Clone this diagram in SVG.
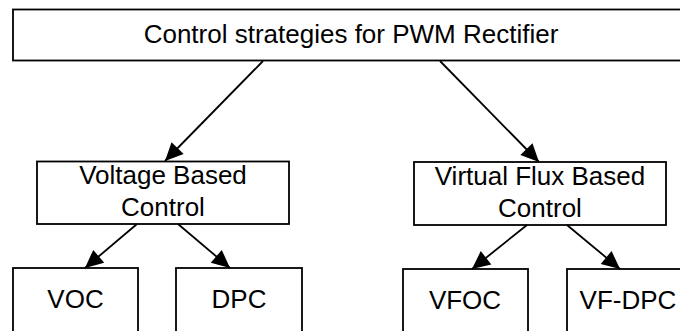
<svg xmlns="http://www.w3.org/2000/svg" width="680" height="331" viewBox="0 0 680 331">
<style>
.box{fill:#fff;stroke:#000;stroke-width:1.8}
.t{font-family:"Liberation Sans",Arial,sans-serif;font-size:26px;fill:#000;text-anchor:middle}
.c{stroke:#000;stroke-width:1.8;fill:none;marker-end:url(#ah)}
</style>
<defs>
<marker id="ah" markerUnits="userSpaceOnUse" markerWidth="20" markerHeight="18" refX="18" refY="8.5" orient="auto" overflow="visible">
<path d="M0,0 L18,8.5 L0,17 z" fill="#000"/>
</marker>
</defs>
<rect width="680" height="331" fill="#fff"/>
<g id="root">
<rect class="box" x="13" y="9.5" width="676" height="51"/>
<text class="t" x="351" y="43">Control strategies for PWM Rectifier</text>
</g>
<g id="voltage">
<rect class="box" x="37" y="161.5" width="252" height="62.5"/>
<text class="t" x="163" y="184">Voltage Based</text>
<text class="t" x="163" y="216">Control</text>
</g>
<g id="vflux">
<rect class="box" x="414" y="162" width="252" height="63"/>
<text class="t" x="540" y="185">Virtual Flux Based</text>
<text class="t" x="540" y="217">Control</text>
</g>
<g id="voc">
<rect class="box" x="13" y="268" width="125" height="80"/>
<text class="t" x="75.5" y="308">VOC</text>
</g>
<g id="dpc">
<rect class="box" x="176" y="268" width="126" height="80"/>
<text class="t" x="239" y="308">DPC</text>
</g>
<g id="vfoc">
<rect class="box" x="403" y="269" width="125" height="80"/>
<text class="t" x="465" y="309">VFOC</text>
</g>
<g id="vfdpc">
<rect class="box" x="567" y="269" width="122" height="80"/>
<text class="t" x="628" y="309">VF-DPC</text>
</g>
<g id="connectors">
<line class="c" x1="263" y1="61" x2="165" y2="161"/>
<line class="c" x1="440" y1="61" x2="539" y2="162"/>
<line class="c" x1="137" y1="224" x2="85" y2="268"/>
<line class="c" x1="178" y1="224" x2="230" y2="268"/>
<line class="c" x1="527" y1="225" x2="472" y2="269"/>
<line class="c" x1="567" y1="225" x2="620" y2="269"/>
</g>
</svg>
